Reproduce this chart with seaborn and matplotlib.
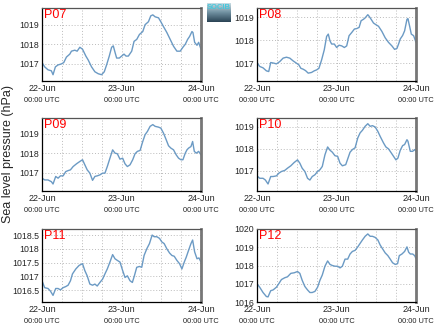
import numpy as np
import pandas as pd
import matplotlib
matplotlib.use("Agg")
import matplotlib.pyplot as plt
import seaborn as sns

sns.set_style("white")
plt.rcParams['font.family'] = ['Liberation Sans', 'DejaVu Sans']

stations = ["P07", "P08", "P09", "P10", "P11", "P12"]

# hours since 22-Jun 00:00 UTC, and sea level pressure (hPa)
p07_h = [0, 0.81, 1.82, 2.83, 3.33, 4.04, 4.85, 5.86, 6.57, 7.38, 8.39, 8.89, 9.9, 10.61, 11.42, 12.23, 13.24,
         13.95, 14.96, 15.97, 16.98, 17.99, 18.8, 19.5, 20.31, 21.02, 21.52, 22.03, 22.53, 23.34, 24.05, 24.76,
         25.36, 26.07, 27.08, 27.79, 28.6, 29.41, 30.42, 31.12, 32.13, 32.84, 33.45, 34.16, 35.17, 35.87, 36.68,
         37.69, 38.7, 39.71, 40.72, 41.73, 42.54, 43.25, 43.96, 44.56, 45.27, 45.57, 46.08, 46.79, 47.29, 48.0]
p07_v = [1017.07, 1016.85, 1016.7, 1016.65, 1016.45, 1016.85, 1016.95, 1017.0, 1017.07, 1017.35, 1017.5,
         1017.65, 1017.7, 1017.65, 1017.85, 1017.75, 1017.4, 1017.2, 1016.85, 1016.6, 1016.5, 1016.45, 1016.6,
         1016.95, 1017.4, 1017.85, 1017.92, 1017.6, 1017.3, 1017.3, 1017.4, 1017.5, 1017.4, 1017.4, 1017.65,
         1018.15, 1018.25, 1018.5, 1018.65, 1019.0, 1019.15, 1019.45, 1019.5, 1019.4, 1019.35, 1019.15, 1018.9,
         1018.6, 1018.25, 1017.9, 1017.65, 1017.65, 1017.85, 1018.0, 1018.25, 1018.4, 1018.65, 1018.6, 1018.1,
         1017.95, 1018.1, 1017.75]

p08_h = [0, 0.81, 1.82, 2.83, 3.54, 4.14, 5.15, 5.86, 6.87, 7.88, 8.89, 9.9, 10.91, 11.92, 12.63, 13.24, 13.95,
         14.65, 15.46, 16.47, 17.28, 17.99, 18.69, 19.5, 20.31, 21.02, 21.52, 22.03, 22.53, 23.34, 24.05, 24.76,
         25.57, 26.37, 27.08, 27.79, 28.6, 29.41, 30.11, 30.82, 31.43, 32.13, 32.64, 33.45, 33.85, 34.46, 35.17,
         35.87, 36.68, 37.69, 38.7, 39.71, 40.72, 41.53, 42.24, 42.74, 43.25, 43.96, 44.56, 45.27, 45.57, 46.08,
         46.58, 47.29, 48.0]
p08_v = [1017.03, 1016.86, 1016.8, 1016.67, 1016.64, 1017.03, 1017.0, 1016.97, 1017.07, 1017.22, 1017.26,
         1017.22, 1017.1, 1017.0, 1016.93, 1016.78, 1016.74, 1016.68, 1016.57, 1016.6, 1016.67, 1016.71, 1016.78,
         1017.14, 1017.58, 1018.16, 1018.26, 1017.97, 1017.83, 1017.83, 1017.68, 1017.78, 1017.75, 1017.68,
         1017.75, 1018.19, 1018.33, 1018.48, 1018.5, 1018.55, 1018.84, 1018.9, 1018.96, 1019.1, 1019.03, 1018.9,
         1018.74, 1018.67, 1018.6, 1018.38, 1018.1, 1017.9, 1017.75, 1017.6, 1017.64, 1017.83, 1018.05, 1018.2,
         1018.4, 1018.9, 1018.93, 1018.6, 1018.26, 1018.19, 1017.9]

p09_h = [0, 0.81, 1.82, 2.83, 3.33, 4.14, 4.85, 5.56, 6.37, 7.17, 7.88, 8.59, 9.4, 10.41, 11.42, 12.23, 12.93,
         13.64, 14.45, 15.26, 15.97, 16.67, 17.48, 18.29, 19.0, 19.71, 20.51, 21.32, 22.03, 22.74, 23.54, 24.35,
         25.06, 25.77, 26.58, 27.38, 28.09, 28.8, 29.61, 30.42, 31.12, 31.83, 32.64, 33.45, 34.16, 35.17, 35.87,
         36.68, 37.49, 38.2, 38.9, 39.71, 40.52, 41.23, 41.94, 42.54, 43.25, 43.76, 44.26, 44.97, 45.47, 45.98,
         46.58, 47.29, 48.0]
p09_v = [1016.71, 1016.62, 1016.62, 1016.53, 1016.41, 1016.8, 1016.71, 1016.83, 1016.83, 1017.05, 1017.1,
         1017.14, 1017.31, 1017.45, 1017.57, 1017.66, 1017.4, 1017.14, 1016.97, 1016.6, 1016.8, 1016.83, 1016.88,
         1016.97, 1016.97, 1017.31, 1017.74, 1018.17, 1018.0, 1017.97, 1017.69, 1017.74, 1017.45, 1017.31,
         1017.4, 1017.66, 1017.97, 1018.09, 1018.14, 1018.6, 1018.95, 1019.12, 1019.38, 1019.47, 1019.38,
         1019.34, 1019.29, 1019.03, 1018.69, 1018.38, 1018.26, 1018.17, 1017.91, 1017.74, 1017.66, 1017.66,
         1018.0, 1018.17, 1018.26, 1018.34, 1018.6, 1018.09, 1018.0, 1018.09, 1017.91]

p10_h = [0, 0.81, 1.82, 2.53, 3.33, 4.14, 4.85, 5.86, 6.57, 7.38, 8.39, 9.2, 10.21, 11.22, 12.23, 12.93, 13.64,
         14.45, 15.26, 15.97, 16.67, 17.48, 18.29, 19.0, 19.71, 20.51, 21.32, 22.03, 22.74, 23.54, 24.35, 25.06,
         25.77, 26.78, 27.38, 28.09, 28.8, 29.61, 30.42, 31.12, 31.83, 32.64, 33.45, 34.16, 34.86, 35.67, 36.48,
         37.19, 38.2, 38.9, 39.71, 40.52, 41.23, 41.94, 42.54, 43.25, 43.96, 44.56, 45.27, 45.57, 46.28, 46.99,
         47.6, 48.0]
p10_v = [1016.77, 1016.66, 1016.66, 1016.58, 1016.4, 1016.74, 1016.74, 1016.77, 1016.89, 1016.97, 1017.02,
         1017.12, 1017.23, 1017.38, 1017.5, 1017.35, 1017.12, 1016.97, 1016.66, 1016.58, 1016.74, 1016.82,
         1016.97, 1017.05, 1017.2, 1017.73, 1018.09, 1017.94, 1017.85, 1017.69, 1017.66, 1017.35, 1017.23,
         1017.28, 1017.54, 1017.85, 1017.97, 1018.05, 1018.5, 1018.73, 1018.85, 1019.03, 1019.15, 1019.03,
         1019.06, 1019.0, 1018.8, 1018.57, 1018.27, 1018.09, 1018.0, 1017.82, 1017.66, 1017.5, 1017.58, 1017.94,
         1018.15, 1018.2, 1018.42, 1018.35, 1017.89, 1017.89, 1017.97, 1017.89]

p11_h = [0, 0.81, 1.82, 2.53, 3.33, 4.14, 4.85, 5.56, 6.37, 7.17, 7.88, 8.59, 9.2, 10.21, 11.22, 12.23, 12.93,
         13.64, 14.45, 15.26, 15.97, 16.67, 17.48, 18.29, 19.0, 19.71, 20.51, 21.32, 22.03, 22.74, 23.54, 24.35,
         25.06, 25.77, 26.58, 27.28, 27.89, 28.6, 29.41, 30.11, 30.82, 31.63, 32.44, 33.25, 33.85, 34.66, 35.47,
         36.18, 36.88, 37.69, 38.5, 39.21, 39.92, 40.72, 41.53, 42.24, 42.95, 43.55, 44.26, 44.97, 45.47, 46.08,
         46.79, 47.39, 48.0]
p11_v = [1016.84, 1016.59, 1016.56, 1016.47, 1016.31, 1016.56, 1016.56, 1016.51, 1016.59, 1016.63, 1016.68,
         1016.84, 1017.09, 1017.27, 1017.4, 1017.46, 1017.21, 1017.02, 1016.72, 1016.68, 1016.72, 1016.65,
         1016.78, 1016.9, 1017.09, 1017.27, 1017.52, 1017.79, 1017.64, 1017.58, 1017.52, 1017.21, 1016.96,
         1017.02, 1016.84, 1016.78, 1017.02, 1017.33, 1017.36, 1017.33, 1017.76, 1018.0, 1018.19, 1018.5,
         1018.44, 1018.44, 1018.38, 1018.25, 1018.19, 1018.0, 1017.85, 1017.76, 1017.73, 1017.58, 1017.46,
         1017.27, 1017.52, 1017.7, 1017.95, 1018.19, 1018.32, 1017.89, 1017.64, 1017.67, 1017.52]

p12_h = [0, 0.81, 1.82, 2.83, 3.33, 4.14, 4.85, 5.86, 6.57, 7.38, 8.39, 9.2, 10.21, 11.22, 12.23, 12.93, 13.64,
         14.45, 15.26, 15.97, 16.67, 17.48, 18.29, 19.0, 19.71, 20.51, 21.32, 22.03, 22.74, 23.54, 24.35, 25.06,
         25.77, 26.58, 27.38, 28.09, 28.8, 29.61, 30.42, 31.12, 31.83, 32.64, 33.45, 34.16, 34.86, 35.67, 36.48,
         37.19, 37.89, 38.7, 39.51, 40.22, 40.93, 41.73, 42.44, 42.95, 43.76, 44.56, 45.27, 45.78, 46.28, 46.99,
         47.6, 48.0]
p12_v = [1017.0, 1016.81, 1016.52, 1016.3, 1016.28, 1016.62, 1016.66, 1016.81, 1017.0, 1017.23, 1017.33,
         1017.38, 1017.57, 1017.6, 1017.67, 1017.57, 1017.19, 1016.85, 1016.66, 1016.52, 1016.52, 1016.58,
         1016.81, 1017.19, 1017.48, 1017.96, 1018.25, 1018.06, 1018.0, 1017.96, 1017.96, 1017.87, 1017.96,
         1018.35, 1018.35, 1018.63, 1018.77, 1018.83, 1019.02, 1019.21, 1019.4, 1019.6, 1019.73, 1019.6, 1019.6,
         1019.54, 1019.4, 1019.12, 1018.92, 1018.69, 1018.54, 1018.35, 1018.15, 1018.06, 1018.1, 1018.54,
         1018.63, 1018.77, 1019.02, 1018.73, 1018.63, 1018.63, 1018.54, 1018.38]

series_h = [p07_h, p08_h, p09_h, p10_h, p11_h, p12_h]
series_v = [p07_v, p08_v, p09_v, p10_v, p11_v, p12_v]

ylims = [(1016.13, 1019.85), (1016.23, 1019.39), (1016.05, 1019.81),
         (1016.08, 1019.41), (1016.07, 1018.72), (1016.0, 1020.0)]
yticks = [[1017, 1018, 1019]] * 4 + [[1016.5, 1017, 1017.5, 1018, 1018.5], [1016, 1017, 1018, 1019, 1020]]
ytick_labels = [["1017", "1018", "1019"]] * 4 + [["1016.5", "1017", "1017.5", "1018", "1018.5"],
                                                 ["1016", "1017", "1018", "1019", "1020"]]
xtick_hours = [0, 24, 48]
xtick_labels = ["22-Jun", "23-Jun", "24-Jun"]
xtick_sub = "00:00 UTC"

W, H = 435, 327
fig = plt.figure(figsize=(W / 100, H / 100), dpi=100)

lefts = [42, 257]
tops = [8, 118, 229]
aw, ah = 159, 73

line_color = "#6b9ac4"

for i, name in enumerate(stations):
    r, c = divmod(i, 2)
    ax = fig.add_axes([lefts[c] / W, 1 - (tops[r] + ah) / H, aw / W, ah / H])
    df = pd.DataFrame({"hours": series_h[i], "slp": series_v[i]})
    sns.lineplot(data=df, x="hours", y="slp", ax=ax, color=line_color, linewidth=1.0)
    ax.set_xlim(0, 48)
    ax.set_ylim(*ylims[i])
    ax.set_xticks(xtick_hours)
    ax.set_xticklabels(xtick_labels, fontsize=6.5)
    ax.set_xticks(np.arange(6, 48, 6), minor=True)
    ax.set_yticks(yticks[i])
    ax.set_yticklabels(ytick_labels[i], fontsize=6.3)
    ax.tick_params(axis="both", which="both", direction="in", length=2, pad=2, color="#333333")
    ax.grid(True, which="both", linestyle=(0, (1, 2)), color="#bbbbbb", linewidth=0.7)
    ax.set_xlabel("")
    ax.set_ylabel("")
    for side in ["left", "bottom"]:
        ax.spines[side].set_color("black")
        ax.spines[side].set_linewidth(0.9)
    ax.spines["top"].set_color("#555555")
    ax.spines["top"].set_linewidth(0.9)
    ax.spines["right"].set_color("#777777")
    ax.spines["right"].set_linewidth(2.0)
    for h in xtick_hours:
        ax.text(h, -0.27, xtick_sub, transform=ax.get_xaxis_transform(), ha="center", va="center",
                fontsize=5.3, color="#222222")
    ax.text(0.01, 0.985, name, transform=ax.transAxes, ha="left", va="top", fontsize=9, color="red")

fig.text(8 / W, 1 - 154 / H, "Sea level pressure (hPa)", rotation=90, ha="center", va="center", fontsize=9)

# logo
lax = fig.add_axes([207 / W, 1 - 22 / H, 24 / W, 19 / H])
grad = np.linspace(0, 1, 50).reshape(-1, 1)
lax.imshow(grad, aspect="auto", cmap=matplotlib.colors.LinearSegmentedColormap.from_list(
    "g", ["#c9dde4", "#6f8fa0", "#2b4455"]), extent=(0, 1, 0, 1), origin="upper")
lax.text(0.5, 0.78, "SOCIB", ha="center", va="center", fontsize=5.5, color="#45c8dd",
         transform=lax.transAxes, fontweight="bold")
lax.axis("off")

fig.savefig("out.png", dpi=100)
